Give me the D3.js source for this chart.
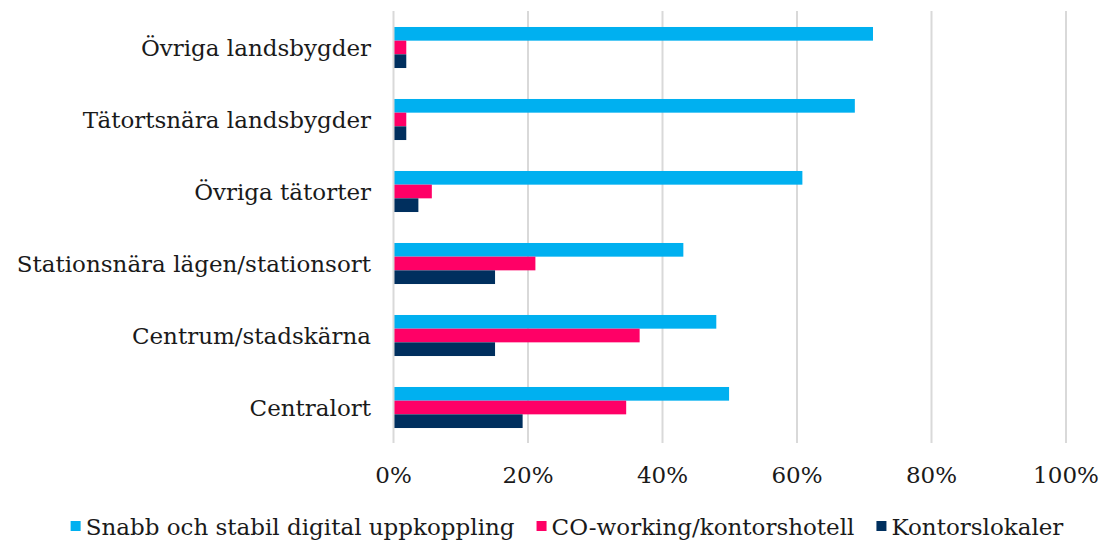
<!DOCTYPE html>
<html>
<head>
<meta charset="utf-8">
<script src="https://cdn.jsdelivr.net/npm/d3@7"></script>
<style>
  body { margin: 0; background: #fff; }
  svg { display: block; }
</style>
</head>
<body>
<div id="chart"></div>
<script>
// Data
const categories = [
    'Övriga landsbygder',
    'Tätortsnära landsbygder',
    'Övriga tätorter',
    'Stationsnära lägen/stationsort',
    'Centrum/stadskärna',
    'Centralort'
];
const seriesNames = [
    'Snabb och stabil digital uppkoppling',
    'CO-working/kontorshotell',
    'Kontorslokaler'
];
const digital = [0.713, 0.686, 0.608, 0.431, 0.480, 0.499];
const coworking = [0.019, 0.019, 0.057, 0.211, 0.366, 0.346];
const kontor = [0.019, 0.019, 0.037, 0.151, 0.151, 0.192];
const xTicks = [0, 0.2, 0.4, 0.6, 0.8, 1.0];

const colors = ['#00B0F0', '#FF0066', '#002F5E'];
const seriesValues = [digital, coworking, kontor];

const width = 1102;
const height = 541;
const margin = { top: 11, right: 36, bottom: 98, left: 393.5 };
const font = "'DejaVu Serif', 'Liberation Serif', serif";
const fontSize = '23px';
const textColor = '#1a1a1a';

const svg = d3.select('#chart')
    .append('svg')
    .attr('width', width)
    .attr('height', height);

// Scales
const x = d3.scaleLinear()
    .domain([0, 1])
    .range([margin.left, width - margin.right]);

const y0 = d3.scaleBand()
    .domain(categories)
    .range([margin.top, height - margin.bottom])
    .padding(0);

const y1 = d3.scaleBand()
    .domain(seriesNames)
    .range([y0.bandwidth() * 0.222, y0.bandwidth() * 0.792])
    .padding(0);

// Gridlines
svg.append('g')
    .selectAll('line')
    .data(xTicks.slice(1))
    .join('line')
    .attr('x1', d => x(d))
    .attr('x2', d => x(d))
    .attr('y1', margin.top)
    .attr('y2', height - margin.bottom)
    .attr('stroke', '#D9D9D9')
    .attr('stroke-width', 2);

// Bars
const rows = categories.map((c, i) => ({
    cat: c,
    vals: seriesNames.map((s, j) => ({ name: s, value: seriesValues[j][i], color: colors[j] }))
}));

svg.append('g')
    .selectAll('g')
    .data(rows)
    .join('g')
    .attr('transform', d => `translate(0,${y0(d.cat)})`)
    .selectAll('rect')
    .data(d => d.vals)
    .join('rect')
    .attr('x', x(0))
    .attr('y', d => y1(d.name))
    .attr('width', d => x(d.value) - x(0))
    .attr('height', y1.bandwidth())
    .attr('fill', d => d.color);

// Vertical axis line
svg.append('line')
    .attr('x1', x(0))
    .attr('x2', x(0))
    .attr('y1', margin.top)
    .attr('y2', height - margin.bottom)
    .attr('stroke', '#D9D9D9')
    .attr('stroke-width', 2);

// Category labels
svg.append('g')
    .selectAll('text')
    .data(categories)
    .join('text')
    .attr('x', 371)
    .attr('y', d => y0(d) + y0.bandwidth() * 0.507)
    .attr('dy', '0.35em')
    .attr('text-anchor', 'end')
    .style('font-family', font)
    .style('font-size', fontSize)
    .style('fill', textColor)
    .text(d => d);

// X tick labels
svg.append('g')
    .selectAll('text')
    .data(xTicks)
    .join('text')
    .attr('x', d => x(d))
    .attr('y', 483)
    .attr('text-anchor', 'middle')
    .style('font-family', font)
    .style('font-size', fontSize)
    .style('fill', textColor)
    .text(d => d3.format('.0%')(d));

// Legend
const legend = svg.append('g')
    .attr('transform', 'translate(0,527)');

const items = legend.selectAll('g')
    .data(seriesNames)
    .join('g');

items.append('rect')
    .attr('x', 0)
    .attr('y', -6)
    .attr('width', 10)
    .attr('height', 10)
    .attr('fill', (d, i) => colors[i]);

items.append('text')
    .attr('x', 15)
    .attr('y', 0)
    .attr('dy', '0.35em')
    .style('font-family', font)
    .style('font-size', fontSize)
    .style('fill', textColor)
    .text(d => d);

// Place legend items side by side
const gap = 22;
let offset = 0;
const offsets = [];
items.each(function () {
    const w = d3.select(this).select('text').node().getComputedTextLength();
    offsets.push(offset);
    offset += 15 + w + gap;
});
const legendWidth = offset - gap;
const startX = (width - legendWidth) / 2 + 16;
items.attr('transform', (d, i) => `translate(${startX + offsets[i]},0)`);
</script>
</body>
</html>
